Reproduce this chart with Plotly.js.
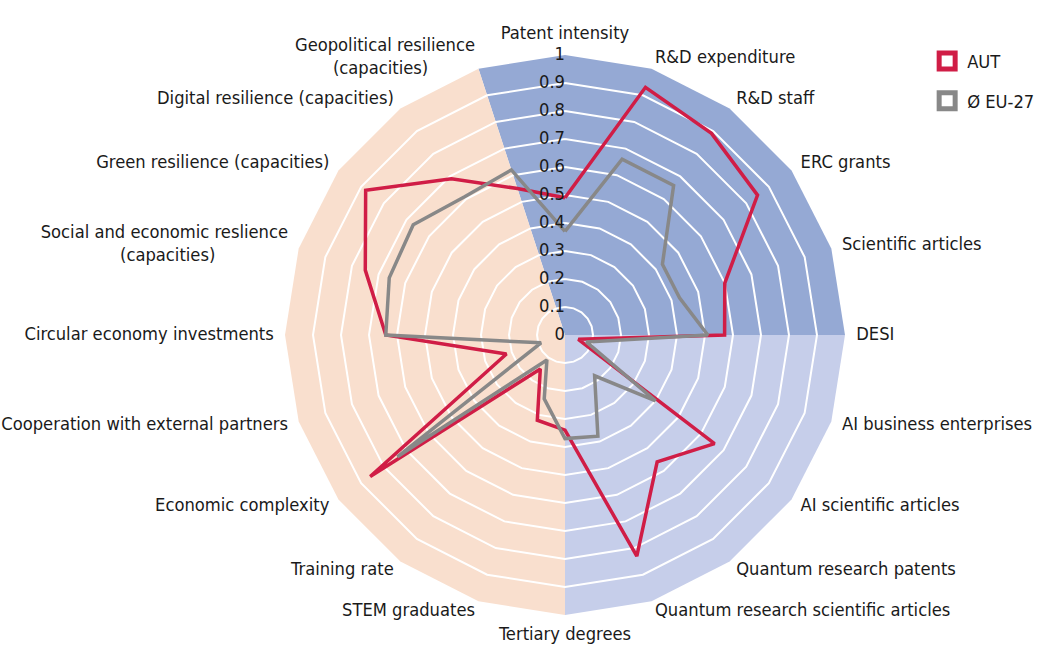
<!DOCTYPE html>
<html>
<head>
<meta charset="utf-8">
<script src="https://cdn.plot.ly/plotly-3.0.1.min.js"></script>
<style>
  html, body { margin: 0; padding: 0; background: #ffffff; overflow: hidden; }
  #chart { width: 1040px; height: 648px; }
</style>
</head>
<body>
<div id="chart"></div>
<script>
// categories clockwise from the top
var categories = [
	'Patent intensity',
	'R&D expenditure',
	'R&D staff',
	'ERC grants',
	'Scientific articles',
	'DESI',
	'AI business enterprises',
	'AI scientific articles',
	'Quantum research patents',
	'Quantum research scientific articles',
	'Tertiary degrees',
	'STEM graduates',
	'Training rate',
	'Economic complexity',
	'Cooperation with external partners',
	'Circular economy investments',
	'Social and economic reslience<br>(capacities)',
	'Green resilience (capacities)',
	'Digital resilience (capacities)',
	'Geopolitical resilience<br>(capacities)'
];

var autValues = [0.49, 0.93, 0.89, 0.85, 0.60, 0.57, 0.05, 0.66, 0.56, 0.83,
	0.34, 0.32, 0.15, 0.86, 0.22, 0.64, 0.75, 0.88, 0.69, 0.55];

var euValues = [0.37, 0.66, 0.66, 0.43, 0.43, 0.51, 0.08, 0.40, 0.18, 0.38,
	0.37, 0.24, 0.11, 0.74, 0.09, 0.64, 0.66, 0.67, 0.61, 0.62];

var tickValues = [0, 0.1, 0.2, 0.3, 0.4, 0.5, 0.6, 0.7, 0.8, 0.9, 1];
var tickLabels = ['0', '0.1', '0.2', '0.3', '0.4', '0.5', '0.6', '0.7', '0.8', '0.9', '1'];

var seriesNames = ['AUT', '\u00D8 EU-27'];

var FONT = '"DejaVu Sans Condensed", "Liberation Sans Narrow", sans-serif';
var FSIZE = 18.2;
var TEXT = '#1a1a1a';
var RED = '#D01D46';
var GREY = '#888888';

// polar geometry: centre and pixels per unit of r
var CX = 565, CY = 335, UNIT = 280;
var R_MIN = 0, R_MAX = 1.1;
var LABEL_R = 1.04;

// background bands, by category index (walks clockwise from first to last)
var bands = [
	{ first: 19, last: 5, color: '#95A9D4' },
	{ first: 5, last: 10, color: '#C6CEEA' },
	{ first: 10, last: 19, color: '#F9DFCE' }
];

function closeLoop(arr) {
	return arr.concat([arr[0]]);
}

function nbsp(n) {
	var s = '';
	for (var i = 0; i < n; i++) s += '\u00A0';
	return s;
}

// second line of a two-line label sits roughly centred under the first
function labelText(c) {
	var parts = c.split('<br>');
	if (parts.length < 2) return c;
	return parts[0] + '<br>' + parts[1] + nbsp(Math.round((parts[0].length - parts[1].length) * 0.8));
}

function labelPosition(i) {
	var a = i * 2 * Math.PI / categories.length;
	var s = Math.sin(a), c = Math.cos(a);
	if (Math.abs(s) < 1e-6) return c > 0 ? 'top center' : 'bottom center';
	return s > 0 ? 'middle right' : 'middle left';
}

var traces = [];

bands.forEach(function (b) {
	var r = [0], th = [categories[b.first]];
	var i = b.first;
	while (true) {
		r.push(1);
		th.push(categories[i]);
		if (i === b.last) break;
		i = (i + 1) % categories.length;
	}
	r.push(0);
	th.push(categories[b.last]);
	traces.push({
		type: 'scatterpolar', r: r, theta: th, mode: 'lines', cliponaxis: true,
		fill: 'toself', fillcolor: b.color, line: { width: 0, color: b.color },
		showlegend: false, hoverinfo: 'skip'
	});
});

// white rings, drawn over the bands
var ringR = [], ringT = [];
tickValues.forEach(function (v) {
	if (v === 0 || v === 1) return;
	closeLoop(categories).forEach(function (c) {
		ringR.push(v);
		ringT.push(c);
	});
	ringR.push(null);
	ringT.push(categories[0]);
});
traces.push({
	type: 'scatterpolar', r: ringR, theta: ringT, mode: 'lines', cliponaxis: true,
	line: { color: '#ffffff', width: 2 }, connectgaps: false,
	showlegend: false, hoverinfo: 'skip'
});

traces.push({
	type: 'scatterpolar', r: closeLoop(autValues), theta: closeLoop(categories), cliponaxis: true,
	mode: 'lines', line: { color: RED, width: 3.5 }, name: seriesNames[0], showlegend: false
});
traces.push({
	type: 'scatterpolar', r: closeLoop(euValues), theta: closeLoop(categories), cliponaxis: true,
	mode: 'lines', line: { color: GREY, width: 3.5 }, name: seriesNames[1], showlegend: false
});

// radial tick labels along the first spoke
traces.push({
	type: 'scatterpolar', r: tickValues, theta: tickValues.map(function () { return categories[0]; }),
	mode: 'text', text: tickLabels, textposition: 'middle left', cliponaxis: true,
	textfont: { family: FONT, size: FSIZE, color: TEXT },
	showlegend: false, hoverinfo: 'skip'
});

// category labels just outside the outer ring, on an overlaid twin polar so they are not clipped
traces.push({
	type: 'scatterpolar', subplot: 'polar2',
	r: categories.map(function () { return LABEL_R; }), theta: categories,
	mode: 'text', text: categories.map(labelText), cliponaxis: false,
	textposition: categories.map(function (c, i) { return labelPosition(i); }),
	textfont: { family: FONT, size: FSIZE, color: TEXT },
	showlegend: false, hoverinfo: 'skip'
});

// legend entries with the square key
[RED, GREY].forEach(function (col, k) {
	traces.push({
		type: 'scatterpolar', r: [null], theta: [categories[0]], mode: 'markers', cliponaxis: true,
		name: seriesNames[k], legendgroup: 'g' + k,
		marker: { symbol: 'square', size: 16, color: '#ffffff', line: { color: col, width: 5 } }
	});
});

var W = 1040, H = 648;
var half = UNIT * (R_MAX - R_MIN);

function polarLayout() {
	return {
		domain: {
			x: [(CX - half) / W, (CX + half) / W],
			y: [(H - CY - half) / H, (H - CY + half) / H]
		},
		gridshape: 'linear',
		bgcolor: 'rgba(0,0,0,0)',
		angularaxis: {
			type: 'category',
			categoryarray: categories,
			rotation: 90,
			direction: 'clockwise',
			showgrid: false,
			showline: false,
			showticklabels: false,
			ticks: ''
		},
		radialaxis: {
			range: [R_MIN, R_MAX],
			showgrid: false,
			showline: false,
			showticklabels: false,
			ticks: ''
		}
	};
}

var layout = {
	width: W,
	height: H,
	margin: { l: 0, r: 0, t: 0, b: 0, autoexpand: false },
	paper_bgcolor: '#ffffff',
	font: { family: FONT, size: FSIZE, color: TEXT },
	showlegend: true,
	legend: {
		x: 0.8915, y: 0.934, xanchor: 'left', yanchor: 'top',
		traceorder: 'grouped', tracegroupgap: 13,
		font: { family: FONT, size: FSIZE, color: TEXT },
		bgcolor: 'rgba(0,0,0,0)'
	},
	polar: polarLayout(),
	polar2: polarLayout()
};

Plotly.newPlot('chart', traces, layout, { displayModeBar: false, staticPlot: true });
</script>
</body>
</html>
